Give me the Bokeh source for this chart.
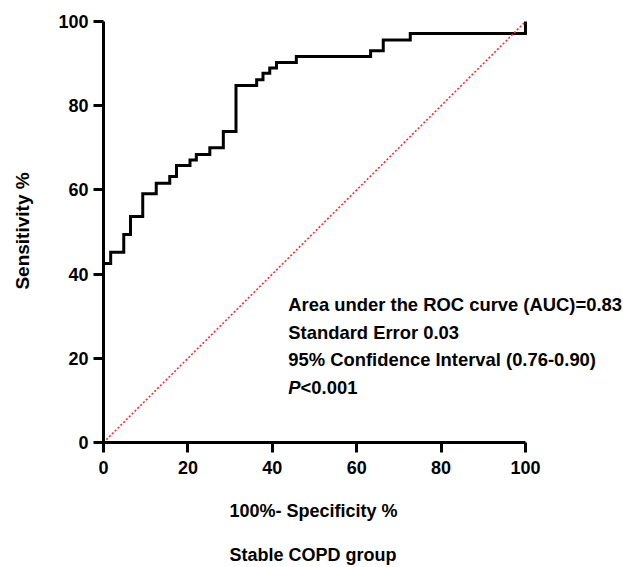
from bokeh.plotting import figure
from bokeh.models import FixedTicker, Label, Range1d, Title
from bokeh.embed import file_html
from bokeh.resources import INLINE

# ---- data ----
fpr = [0, 0, 1.7, 4.8, 6.4, 9.3, 12.5, 15.7, 17.3, 20.5, 22.0, 25.2, 28.4,
       31.4, 36.3, 37.8, 39.4, 41.0, 45.7, 63.3, 66.3, 72.7, 100]
tpr = [0, 42.5, 45.2, 49.4, 53.7, 59.1, 61.6, 63.2, 65.8, 67.1, 68.4, 70.0, 73.9,
       84.8, 86.2, 87.7, 89.0, 90.3, 91.7, 93.1, 95.6, 97.2, 100]
ref_x = [0, 100]
ref_y = [0, 100]
x_ticks = [0, 20, 40, 60, 80, 100]
y_ticks = [0, 20, 40, 60, 80, 100]
stats_lines = ["Area under the ROC curve (AUC)=0.83",
               "Standard Error 0.03",
               "95% Confidence Interval (0.76-0.90)"]
p_symbol = "P"
p_value = "<0.001"
x_title = "100%- Specificity %"
y_title = "Sensitivity %"
group_title = "Stable COPD group"

FONT = "Liberation Sans"

p = figure(frame_width=519, frame_height=423,
           x_range=Range1d(0, 123), y_range=Range1d(0, 100.5),
           output_backend="svg", toolbar_location=None,
           min_border_left=103, min_border_right=1,
           min_border_top=19, min_border_bottom=125)
p.grid.visible = False
p.outline_line_color = None
p.background_fill_color = "white"
p.border_fill_color = "white"

p.step(fpr, tpr, mode="after", line_color="black", line_width=3, line_join="miter")
p.line(ref_x, ref_y, line_color="#ff2a2a", line_width=1.6, line_dash="2 2")

for ax, ticks in ((p.xaxis[0], x_ticks), (p.yaxis[0], y_ticks)):
    ax.ticker = FixedTicker(ticks=ticks)
    ax.bounds = (0, 100)
    ax.axis_line_width = 3
    ax.axis_line_color = "black"
    ax.major_tick_line_width = 3
    ax.major_tick_line_color = "black"
    ax.major_tick_out = 10
    ax.major_tick_in = 0
    ax.minor_tick_out = 0
    ax.minor_tick_in = 0
    ax.major_label_text_font = FONT
    ax.major_label_text_font_style = "bold"
    ax.major_label_text_font_size = "18px"
    ax.major_label_text_color = "black"
    ax.axis_label_text_font = FONT
    ax.axis_label_text_font_style = "bold"
    ax.axis_label_text_color = "black"

p.xaxis[0].major_label_standoff = 8
p.yaxis[0].major_label_standoff = 5
p.yaxis[0].axis_label = y_title
p.yaxis[0].axis_label_text_font_size = "19px"
p.yaxis[0].axis_label_standoff = 22

# statistics block (positions of cap centres)
tx, ty0, dy = 43.8, 32.7, 6.54
for i, line in enumerate(stats_lines):
    p.add_layout(Label(x=tx, y=ty0 - i * dy, text=line, text_font=FONT,
                       text_font_style="bold", text_font_size="18.4px",
                       text_color="black", text_baseline="middle"))
yl = ty0 - len(stats_lines) * dy
p.add_layout(Label(x=tx, y=yl, text=p_symbol, text_font=FONT,
                   text_font_style="bold italic", text_font_size="18.4px",
                   text_color="black", text_baseline="middle"))
p.add_layout(Label(x=tx, y=yl, x_offset=12.3, text=p_value, text_font=FONT,
                   text_font_style="bold", text_font_size="18.4px",
                   text_color="black", text_baseline="middle"))

# x-axis title and group caption below the axis
p.add_layout(Title(text=x_title, align="left", offset=126, standoff=44,
                   text_font=FONT, text_font_style="bold", text_font_size="18px",
                   text_color="black"), "below")
p.add_layout(Title(text=group_title, align="left", offset=126, standoff=0,
                   text_font=FONT, text_font_style="bold", text_font_size="18px",
                   text_color="black"), "below")

open("out.html", "w").write(file_html(p, INLINE))
